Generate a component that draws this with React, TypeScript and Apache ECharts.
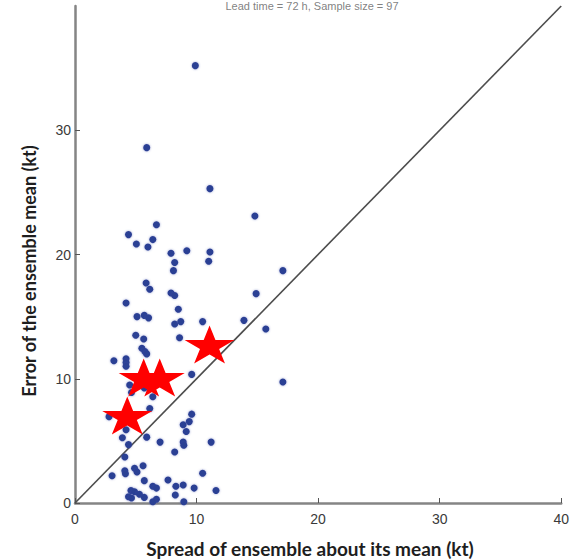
import React, { useEffect, useRef } from "react";
import * as echarts from "echarts";

// Ensemble spread (kt) and error of the ensemble mean (kt) for each forecast
const spreadKt = [
  9.9, 5.9, 11.1, 14.8, 6.7, 4.4, 6.4, 5.05, 6.0, 7.9,
  9.2, 11.1, 8.2, 11.0, 8.1, 17.1, 5.85, 6.15, 7.9, 8.2,
  14.9, 4.2, 8.5, 5.1, 5.7, 6.05, 8.2, 8.7, 10.5, 13.9,
  15.7, 5.0, 5.65, 8.6, 5.5, 5.75, 5.9, 3.2, 4.2, 4.2,
  4.2, 9.6, 17.1, 4.5, 4.65, 5.7, 6.4, 6.15, 2.8, 9.6,
  9.4, 8.9, 9.15, 4.2, 3.9, 5.9, 4.4, 7.0, 8.9, 8.95,
  11.2, 8.2, 4.1, 5.6, 4.9, 5.1, 4.1, 4.15, 3.05, 10.5,
  5.7, 7.65, 6.4, 6.7, 8.3, 8.9, 9.8, 11.6, 4.6, 4.9,
  5.3, 4.4, 4.65, 5.7, 6.7, 8.25, 6.4, 8.95,
];
const errorKt = [
  35.2, 28.6, 25.3, 23.1, 22.4, 21.6, 21.2, 20.85, 20.6, 20.1,
  20.3, 20.2, 19.35, 19.45, 18.7, 18.7, 17.7, 17.2, 16.9, 16.7,
  16.85, 16.1, 15.6, 15.0, 15.1, 14.9, 14.4, 14.6, 14.6, 14.7,
  14.0, 13.5, 13.2, 13.3, 12.45, 12.2, 12.0, 11.45, 11.6, 11.3,
  11.0, 10.35, 9.74, 9.5, 8.9, 9.25, 8.55, 7.6, 6.95, 7.15,
  6.55, 6.3, 5.75, 5.9, 5.25, 5.3, 4.7, 4.9, 4.9, 4.65,
  4.9, 4.1, 3.7, 3.0, 2.8, 2.5, 2.6, 2.35, 2.2, 2.4,
  1.8, 1.85, 1.35, 1.2, 1.35, 1.45, 1.2, 1.0, 1.0, 0.9,
  0.7, 0.5, 0.4, 0.45, 0.3, 0.65, 0.1, 0.1,
];

// Highlighted cases
const caseSpreadKt = [4.3, 5.65, 6.97, 11.07];
const caseErrorKt = [7.05, 10.1, 10.1, 12.75];

const axisTicks = [0, 10, 20, 30, 40];

const titleText = "Lead time = 72 h, Sample size = 97";
const xAxisName = "Spread of ensemble about its mean (kt)";
const yAxisName = "Error of the ensemble mean (kt)";

const STAR_PATH =
  "path://M50,0L61.2,34.5L97.6,34.5L68.2,55.9L79.4,90.5L50,69.1L20.6,90.5L31.8,55.9L2.4,34.5L38.8,34.5Z";

export default function App() {
  const ref = useRef<HTMLDivElement>(null);

  useEffect(() => {
    if (!ref.current) return;
    const chart = echarts.init(ref.current, null, { renderer: "svg" });

    const axisMin = axisTicks[0];
    const axisMax = axisTicks[axisTicks.length - 1];
    const step = axisTicks[1] - axisTicks[0];

    const axisCommon = {
      type: "value" as const,
      min: axisMin,
      max: axisMax,
      interval: step,
      splitLine: { show: false },
      axisLine: { show: true, lineStyle: { color: "#858585", width: 2.5 } },
      axisTick: { show: true, inside: true, length: 5, lineStyle: { color: "#555", width: 1 } },
    };

    chart.setOption({
      animation: false,
      backgroundColor: "#ffffff",
      grid: { left: 75, right: 9, top: 6, bottom: 56, containLabel: false },
      xAxis: {
        ...axisCommon,
        axisLabel: {
          margin: 9,
          color: "#3a3a3a",
          fontSize: 14,
          fontFamily: "Liberation Sans",
        },
      },
      yAxis: {
        ...axisCommon,
        axisLabel: {
          margin: 4,
          color: "#3a3a3a",
          fontSize: 14,
          fontFamily: "Liberation Sans",
          showMaxLabel: false,
        },
      },
      graphic: [
        {
          type: "text",
          x: 312,
          y: 0,
          style: {
            text: titleText,
            align: "center",
            verticalAlign: "top",
            fontSize: 11,
            fontFamily: "Liberation Sans",
            fill: "#6a6a6a",
            opacity: 0.85,
          },
        },
        {
          type: "text",
          x: 310,
          y: 548,
          style: {
            text: xAxisName,
            align: "center",
            verticalAlign: "middle",
            fontSize: 19,
            fontWeight: "bold",
            fontFamily: "Lato",
            fill: "#1e1e1e",
          },
        },
        {
          type: "text",
          x: 29,
          y: 271,
          rotation: Math.PI / 2,
          style: {
            text: yAxisName,
            align: "center",
            verticalAlign: "middle",
            fontSize: 18,
            fontWeight: "bold",
            fontFamily: "Lato",
            fill: "#1e1e1e",
          },
        },
      ],
      series: [
        {
          type: "line",
          data: [
            [axisMin, axisMin],
            [axisMax, axisMax],
          ],
          symbol: "none",
          lineStyle: { color: "#4d4d4d", width: 1.6 },
          silent: true,
          z: 1,
        },
        {
          type: "scatter",
          data: spreadKt.map((x, i) => [x, errorKt[i]]),
          symbol: "circle",
          symbolSize: 7,
          itemStyle: {
            color: "#2c3f94",
            opacity: 1,
            shadowBlur: 2,
            shadowColor: "rgba(60,80,170,0.55)",
          },
          z: 2,
        },
        {
          type: "scatter",
          data: caseSpreadKt.map((x, i) => [x, caseErrorKt[i]]),
          symbol: STAR_PATH,
          symbolSize: [50, 38],
          itemStyle: { color: "#ff0000", opacity: 1 },
          z: 3,
        },
      ],
    });

    return () => chart.dispose();
  }, []);

  return (
    <div
      ref={ref}
      style={{ position: "fixed", left: 0, top: 0, width: 572, height: 559 }}
    />
  );
}
